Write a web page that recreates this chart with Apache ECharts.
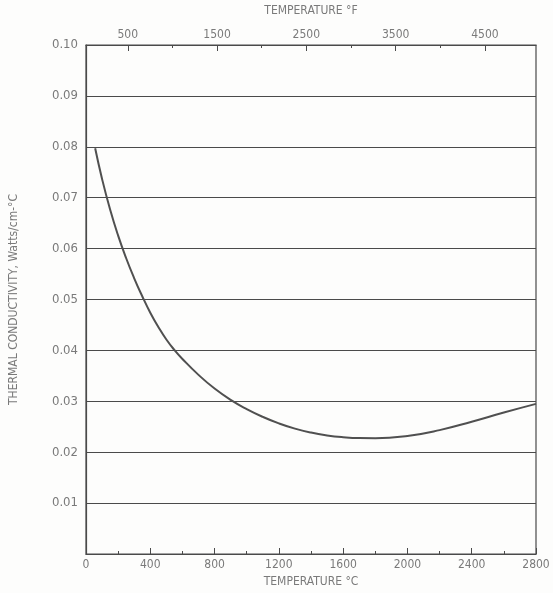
<!DOCTYPE html>
<html>
<head>
<meta charset="utf-8">
<script src="https://cdn.jsdelivr.net/npm/echarts@6/dist/echarts.min.js"></script>
<style>
  html, body { margin: 0; padding: 0; background: #fdfdfc; }
  #chart { width: 553px; height: 593px; }
</style>
</head>
<body>
<div id="chart"></div>
<script>
// temperature (deg C) and thermal conductivity (Watts/cm-C)
var tempC = [57, 100, 150, 200, 250, 300, 350, 400, 450, 500, 550, 600, 700, 800, 900, 1000, 1100, 1200, 1300, 1400, 1500, 1600, 1700, 1800, 2000, 2200, 2400, 2600, 2800];
var conductivity = [0.07970, 0.07368, 0.06768, 0.06255, 0.05810, 0.05417, 0.05064, 0.04741, 0.04461, 0.04214, 0.04009, 0.03832, 0.03519, 0.03250, 0.03028, 0.02847, 0.02694, 0.02566, 0.02463, 0.02385, 0.02330, 0.02295, 0.02277, 0.02274, 0.02319, 0.02434, 0.02599, 0.02779, 0.02949];

// top axis in deg F
var fMajor = [500, 1500, 2500, 3500, 4500];
var fMinor = [1000, 2000, 3000, 4000];

var lineCol = '#4a4a4a';
var textCol = '#7a7a7a';
var font = '"DejaVu Sans Condensed", "DejaVu Sans", sans-serif';

var points = [];
for (var i = 0; i < tempC.length; i++) {
    points.push([tempC[i], conductivity[i]]);
}

function plain(v) { return String(v); }

var chart = echarts.init(document.getElementById('chart'));
var option = {
    backgroundColor: '#fdfdfc',
    animation: false,
    grid: {
        left: 83,
        right: 17,
        top: 43,
        bottom: 33,
        show: true,
        borderColor: lineCol,
        borderWidth: 1.2
    },
    xAxis: [
        {
            type: 'value',
            position: 'bottom',
            min: 0,
            max: 2800,
            interval: 400,
            name: 'TEMPERATURE °C',
            nameLocation: 'middle',
            nameGap: 22,
            nameTextStyle: { color: textCol, fontSize: 12, fontFamily: font },
            axisLine: { show: true, lineStyle: { color: lineCol, width: 1.2 } },
            axisTick: { show: true, inside: true, length: 6, lineStyle: { color: lineCol } },
            minorTick: { show: true, splitNumber: 2, length: 3, lineStyle: { color: lineCol } },
            axisLabel: { color: textCol, fontSize: 12, fontFamily: font, margin: 5, formatter: plain },
            splitLine: { show: false }
        },
        {
            type: 'value',
            position: 'top',
            min: 32,
            max: 5072,
            name: 'TEMPERATURE °F',
            nameLocation: 'middle',
            nameGap: 28,
            nameTextStyle: { color: textCol, fontSize: 12, fontFamily: font },
            axisLine: { show: true, lineStyle: { color: lineCol, width: 1.2 } },
            axisTick: { show: true, inside: true, length: 6, customValues: fMajor, lineStyle: { color: lineCol } },
            axisLabel: { show: true, customValues: fMajor, color: textCol, fontSize: 12, fontFamily: font, margin: 4, formatter: plain },
            splitLine: { show: false }
        },
        {
            type: 'value',
            position: 'top',
            min: 32,
            max: 5072,
            axisLine: { show: false },
            axisTick: { show: true, inside: true, length: 3, customValues: fMinor, lineStyle: { color: lineCol } },
            axisLabel: { show: false },
            splitLine: { show: false }
        }
    ],
    yAxis: {
        type: 'value',
        min: 0,
        max: 0.1,
        interval: 0.01,
        name: 'THERMAL CONDUCTIVITY, Watts/cm-°C',
        nameLocation: 'middle',
        nameGap: 66,
        nameTextStyle: { color: textCol, fontSize: 12, fontFamily: font },
        axisLine: { show: true, lineStyle: { color: lineCol, width: 1.2 } },
        axisTick: { show: false },
        axisLabel: {
            color: textCol,
            fontSize: 13,
            fontFamily: font,
            margin: 8,
            formatter: function (v) { return v === 0 ? '' : v.toFixed(2); }
        },
        splitLine: { show: true, lineStyle: { color: lineCol, width: 1.2 } }
    },
    series: [
        {
            type: 'line',
            xAxisIndex: 0,
            data: points,
            smooth: 0.5,
            showSymbol: false,
            lineStyle: { color: '#505050', width: 2 }
        }
    ]
};
chart.setOption(option);
</script>
</body>
</html>
